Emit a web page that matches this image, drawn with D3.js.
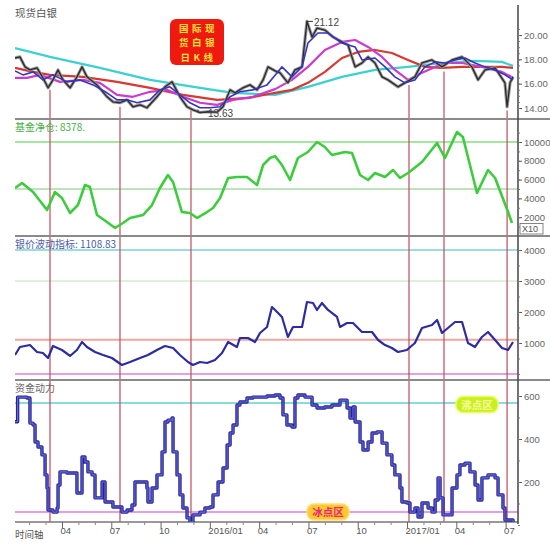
<!DOCTYPE html>
<html><head><meta charset="utf-8">
<script src="https://cdn.jsdelivr.net/npm/d3@7"></script>
<style>body{margin:0;background:#fff}svg{display:block;font-family:"Noto Sans CJK SC","Noto Sans",sans-serif}</style>
</head><body><svg id="c" width="550" height="544"></svg>
<script>
// ---------- DATA (months since 2015-01 , value) ----------
const quarterTicks = [3,6,9,12,15,18,21,24,27,30];
const quarterLabels = ["04","07","10","2016/01","04","07","10","2017/01","04","07"];
const priceTicks = [14,16,18,20];
const fundTicks = [2000,4000,6000,8000,10000];
const volTicks = [1000,2000,3000,4000];
const momTicks = [200,400,600];

const priceClose = [[0.14,18.11],[0.44,18.2],[0.75,17.38],[1.05,17.13],[1.48,17.3],[1.84,16.48],[2.15,15.66],[2.45,16.31],[2.76,17.13],[3.06,16.31],[3.49,15.66],[3.91,16.56],[4.22,17.38],[4.52,16.56],[5.13,15.9],[5.74,14.92],[6.1,14.51],[6.53,14.43],[6.96,14.67],[7.32,14.1],[7.75,14.26],[8.17,14.02],[8.78,14.92],[9.27,15.74],[9.7,16.15],[10.18,14.92],[10.61,14.1],[10.97,13.85],[11.4,13.63],[11.83,13.69],[12.44,13.66],[12.8,14.1],[13.23,15.49],[13.53,15.25],[14.02,15.66],[14.44,15.9],[14.87,15.49],[15.24,16.31],[15.54,17.38],[15.97,17.05],[16.27,16.89],[16.75,16.07],[17.18,17.13],[17.61,17.38],[17.91,21.12],[18.22,19.84],[18.52,20.57],[19.0,20.41],[19.49,19.84],[20.04,19.43],[20.41,19.18],[20.84,17.38],[21.26,17.7],[21.63,18.2],[22.05,17.7],[22.48,16.56],[22.84,16.31],[23.45,15.74],[23.87,16.07],[24.48,16.56],[24.91,17.7],[25.52,17.95],[26.13,17.38],[26.74,17.95],[27.35,18.2],[27.95,17.38],[28.32,16.31],[28.75,17.13],[29.36,17.3],[29.96,16.07],[30.09,14.1],[30.27,16.07],[30.45,16.56]];
const priceMA5 = [[0.14,17.05],[0.63,16.72],[1.24,16.97],[1.84,16.31],[2.45,16.72],[3.3,16.15],[4.1,16.31],[4.89,15.9],[5.74,15.25],[6.35,14.67],[6.96,14.67],[7.57,14.43],[8.36,14.67],[8.96,15.49],[9.57,15.74],[10.18,15.08],[10.79,14.43],[11.4,14.02],[12.01,14.02],[12.62,14.1],[13.23,14.92],[13.83,15.33],[14.62,15.49],[15.48,15.9],[15.97,16.7],[16.39,17.38],[17.0,16.56],[17.61,17.38],[17.97,19.34],[18.58,20.16],[19.19,20.16],[20.04,19.34],[20.84,19.02],[21.26,17.95],[22.05,18.11],[22.66,17.38],[23.26,16.56],[23.87,16.07],[24.48,16.31],[25.09,17.38],[25.71,17.79],[26.31,17.7],[26.92,17.95],[27.53,18.11],[28.14,17.7],[28.75,17.38],[29.36,17.13],[29.96,16.72],[30.45,16.31]];
const priceMA20 = [[0.14,16.48],[0.87,16.48],[1.66,16.72],[2.88,16.15],[4.28,16.31],[5.31,16.07],[6.35,15.08],[7.32,14.92],[8.36,15.33],[9.39,15.49],[10.36,14.92],[11.4,14.43],[12.44,14.26],[13.41,14.67],[14.62,14.92],[15.97,15.55],[17.0,16.31],[17.97,17.38],[19.0,18.77],[20.04,19.43],[20.84,19.59],[21.63,19.02],[22.48,18.2],[23.26,17.13],[24.06,16.31],[24.91,16.89],[25.71,17.38],[26.49,17.7],[27.35,17.7],[28.56,17.38],[29.78,16.97],[30.45,16.48]];
const priceMA60 = [[0.14,17.3],[1.24,16.97],[2.27,16.72],[4.28,16.56],[6.35,16.15],[8.36,15.66],[10.36,15.08],[12.44,14.67],[14.44,14.84],[15.97,15.25],[17.0,15.49],[17.97,16.07],[19.0,16.97],[20.04,18.11],[21.02,18.61],[22.05,18.77],[23.08,18.52],[24.06,17.95],[25.09,17.38],[26.13,17.3],[27.35,17.38],[28.56,17.38],[29.78,17.38],[30.45,17.3]];
const priceMA120 = [[0.14,18.93],[2.27,18.2],[5.31,17.3],[8.36,16.31],[11.4,15.66],[13.41,15.25],[15.97,15.08],[17.97,15.74],[20.04,16.56],[22.05,17.13],[24.06,17.38],[26.13,17.7],[28.14,17.87],[29.78,17.79],[30.45,17.46]];

const fundNet = [[0.14,5106],[0.57,5638],[1.24,4680],[2.09,2765],[2.57,4680],[3.0,4042],[3.49,2446],[3.97,3297],[4.4,5425],[4.7,5212],[5.13,2233],[5.74,1488],[6.23,850],[6.71,1382],[7.14,1914],[7.93,2233],[8.48,3297],[8.96,5106],[9.45,6489],[9.76,5744],[10.3,2552],[10.79,2446],[11.22,1914],[11.83,2552],[12.19,2978],[12.62,4042],[13.11,6170],[13.65,6276],[14.26,6276],[14.87,5425],[15.24,7553],[15.66,8298],[15.97,8500],[16.39,7553],[16.88,5957],[17.36,8298],[17.97,8936],[18.52,10000],[19.0,9468],[19.43,8617],[20.22,8936],[20.65,8830],[21.14,6489],[21.63,5957],[22.05,6702],[22.66,6276],[23.15,7021],[23.57,6170],[24.06,6702],[24.91,7872],[25.83,9894],[26.31,8298],[27.04,11064],[27.4,10532],[28.26,4574],[28.93,7021],[29.36,6170],[30.15,2552],[30.39,1382]];
const fundLevels = [10000,5000];

const volIndex = [[0.14,613],[0.44,871],[1.05,935],[1.48,710],[1.84,677],[2.15,516],[2.45,903],[3.0,774],[3.49,581],[3.91,774],[4.22,1032],[4.52,871],[5.01,710],[5.5,613],[6.04,516],[6.65,290],[7.14,387],[7.75,516],[8.23,613],[8.78,774],[9.27,903],[9.76,839],[10.18,613],[10.67,387],[10.97,290],[11.4,387],[11.83,355],[12.31,452],[12.74,677],[13.11,1032],[13.65,871],[13.83,1161],[14.32,1161],[14.75,1032],[15.05,1323],[15.48,1516],[15.78,2161],[15.97,2065],[16.39,1839],[16.75,1194],[17.06,1516],[17.61,1516],[17.91,2323],[18.28,2290],[18.52,2065],[18.82,2290],[19.19,2065],[19.74,1839],[19.92,1516],[20.35,1645],[20.71,1645],[21.26,1355],[21.87,1355],[22.24,1097],[22.66,935],[23.08,839],[23.45,710],[23.99,774],[24.48,1000],[24.91,1484],[25.52,1581],[25.83,1742],[26.13,1323],[26.49,1484],[26.92,1677],[27.35,1677],[27.71,1000],[28.14,871],[28.56,1194],[28.93,1355],[29.36,1097],[29.78,839],[30.15,774],[30.45,1032]];
const volLevels = [[4000,"#9adede"],[3000,"#b6e6b6"],[1108.83,"#eaa6a0"],[0,"#e6a0e6"]];

const momentum = [[0.14,480],[0.3,595],[0.87,591],[1.05,474],[1.24,465],[1.36,386],[1.54,363],[1.78,326],[1.97,233],[2.09,172],[2.15,70],[2.45,60],[2.7,79],[2.76,186],[2.88,247],[3.3,242],[3.91,149],[4.22,316],[4.4,293],[4.58,247],[4.83,233],[5.01,126],[5.44,200],[5.62,107],[6.1,84],[6.65,60],[6.96,70],[7.26,93],[7.44,200],[7.87,200],[8.17,172],[8.23,107],[8.48,172],[8.78,233],[9.09,340],[9.27,479],[9.45,488],[9.7,498],[9.76,340],[10.0,233],[10.18,140],[10.36,79],[10.61,33],[10.79,14],[10.97,47],[11.4,60],[11.7,79],[12.01,84],[12.19,140],[12.5,200],[12.8,265],[13.05,372],[13.23,428],[13.41,465],[13.65,558],[13.83,572],[14.26,591],[14.62,595],[15.48,600],[15.97,605],[16.27,591],[16.45,512],[16.69,465],[17.0,456],[17.18,591],[17.36,605],[17.79,595],[18.22,558],[18.52,544],[19.0,549],[19.43,558],[19.92,581],[20.35,544],[20.53,498],[20.71,549],[20.84,479],[21.14,386],[21.32,349],[21.63,386],[21.87,428],[22.18,433],[22.48,381],[22.78,326],[23.08,279],[23.26,233],[23.57,172],[23.69,107],[23.99,102],[24.18,60],[24.48,79],[24.67,37],[24.91,102],[25.28,79],[25.52,60],[25.71,116],[25.89,219],[26.01,126],[26.19,47],[26.49,47],[26.74,172],[27.04,233],[27.22,279],[27.53,288],[27.83,247],[28.14,186],[28.32,116],[28.56,219],[28.93,233],[29.36,219],[29.54,140],[29.84,79],[29.96,23],[30.45,14]];
const momLevels = [[567,"#8adcdc"],[60,"#e2a0e2"]];
const zoneLabels = [{m:28.26,v:560,text:"沸点区",fill:"#c8f020",stroke:"#e8ff60",color:"#f8ff9a"},{m:19.19,v:60,text:"冰点区",fill:"#ffc830",stroke:"#ffe070",color:"#ee2277"}];

const signalMonths = [2.27,6.53,10.85,24.12,26.25,30.09];
const signalPrices = [15.49,14.1,13.85,15.9,17.0,13.8];

// ---------- SCALES ----------
const svg = d3.select("#c");
const X0 = 15, X1 = 518, BOTTOM = 522;
const x = d3.scaleLinear().domain([0,30.45]).range([12.7,513]);
const yP = d3.scaleLinear().domain([14,20]).range([108,35]);
const yF = d3.scaleLinear().domain([0,10000]).range([236,142]);
const yV = d3.scaleLinear().domain([0,4000]).range([374,250]);
const yM = d3.scaleLinear().domain([0,600]).range([525,396]);
const panels = [[0,119],[119,236],[236,380],[380,BOTTOM]];

const defs = svg.append("defs");
panels.forEach((p,i)=>defs.append("clipPath").attr("id","cp"+i)
  .append("rect").attr("x",X0).attr("y",p[0]).attr("width",X1-X0).attr("height",p[1]-p[0]));

function hline(y,color,w){
  svg.append("line").attr("x1",X0).attr("x2",X1).attr("y1",y).attr("y2",y)
    .attr("stroke",color).attr("stroke-width",w);
}
// reference lines
hline(yF(fundLevels[0]),"#a6e6a0",2.2);
hline(yF(fundLevels[1]),"#7cc87c",1);
volLevels.forEach(([v,c],i)=>hline(yV(v),c,i==1?1:2));
momLevels.forEach(([v,c])=>hline(yM(v),c,2));

// signal lines
signalMonths.forEach((m,i)=>{
  svg.append("line").attr("x1",x(m)).attr("x2",x(m)).attr("y1",yP(signalPrices[i])).attr("y2",BOTTOM)
   .attr("stroke","#c24a58").attr("stroke-width",1.2);
});

// separators & axes
[119,236,380].forEach(y=>svg.append("line").attr("x1",X0).attr("x2",550).attr("y1",y).attr("y2",y)
   .attr("stroke","#8a8a8a").attr("stroke-width",2));
svg.append("line").attr("x1",X0).attr("x2",X1).attr("y1",BOTTOM).attr("y2",BOTTOM).attr("stroke","#777").attr("stroke-width",1.5);
svg.append("line").attr("x1",X1).attr("x2",X1).attr("y1",5).attr("y2",BOTTOM+2).attr("stroke","#444").attr("stroke-width",1.5);

const line = (xs,ys,curve)=>d3.line().x(d=>xs(d[0])).y(d=>ys(d[1])).curve(curve||d3.curveLinear);

// Panel 1
const g1 = svg.append("g").attr("clip-path","url(#cp0)");
const pdraw=(g,data,ys,color,w,curve)=>g.append("path").datum(data).attr("d",line(x,ys,curve))
   .attr("fill","none").attr("stroke",color).attr("stroke-width",w).attr("stroke-linejoin","round");
pdraw(g1,priceMA120,yP,"#3cd0d0",2.2);
pdraw(g1,priceMA60,yP,"#d23a32",2.2);
pdraw(g1,priceMA20,yP,"#cc3ccc",2.2);
pdraw(g1,priceClose,yP,"#9a9a9a",3.2);
pdraw(g1,priceClose,yP,"#2a2a2a",1.3);
pdraw(g1,priceMA5,yP,"#3535c0",1.6);

// Panel 2
const g2 = svg.append("g").attr("clip-path","url(#cp1)");
pdraw(g2,fundNet,yF,"#3ccc3c",2.6);
// Panel 3
const g3 = svg.append("g").attr("clip-path","url(#cp2)");
pdraw(g3,volIndex,yV,"#2c2ca0",2.2);
// Panel 4
const g4 = svg.append("g").attr("clip-path","url(#cp3)");
pdraw(g4,momentum,yM,"#24248e",3.4,d3.curveStepAfter);
pdraw(g4,momentum,yM,"#6a6ae8",1.1,d3.curveStepAfter);

// zone labels
zoneLabels.forEach(z=>{
  const cx=x(z.m), cy=yM(z.v);
  svg.append("rect").attr("x",cx-21).attr("y",cy-8).attr("width",42).attr("height",16).attr("rx",7)
    .attr("fill",z.fill).attr("stroke",z.stroke).attr("stroke-width",1.5);
  svg.append("text").attr("x",cx).attr("y",cy+4).attr("text-anchor","middle").attr("font-size",10.5)
    .attr("font-weight","bold").attr("fill",z.color).text(z.text);
});

// right axes
function raxis(ys,vals,fmt,minor){
  const g=svg.append("g").attr("transform",`translate(${X1},0)`)
    .call(d3.axisRight(ys).tickValues(vals).tickFormat(fmt).tickSize(4).tickPadding(2));
  g.select(".domain").remove();
  g.selectAll("line").attr("stroke","#555");
  g.selectAll("text").attr("fill","#666").attr("font-size",9.5).attr("font-family","'Liberation Sans',Arial,sans-serif");
  if(minor){
    const m=svg.append("g").attr("transform",`translate(${X1},0)`)
      .call(d3.axisRight(ys).tickValues(minor).tickFormat("").tickSize(2));
    m.select(".domain").remove(); m.selectAll("line").attr("stroke","#777");
  }
}
raxis(yP,priceTicks,d3.format(".2f"),d3.range(14,21,0.5));
raxis(yF,fundTicks,d3.format("d"),d3.range(0,12000,1000));
raxis(yV,volTicks,d3.format("d"),d3.range(0,4500,500));
raxis(yM,momTicks,d3.format("d"),d3.range(0,700,100));
// X10 box
svg.append("rect").attr("x",520).attr("y",223.5).attr("width",23).attr("height",10.5).attr("fill","#fff").attr("stroke","#666").attr("stroke-width",0.8);
svg.append("text").attr("x",522).attr("y",232).attr("font-size",9).attr("fill","#555").attr("font-family","'Liberation Sans',Arial,sans-serif").text("X10");

// bottom axis
const ba=svg.append("g").attr("transform",`translate(0,${BOTTOM})`)
  .call(d3.axisBottom(x).tickValues(quarterTicks).tickFormat((d,i)=>quarterLabels[i]).tickSize(6));
ba.select(".domain").remove();
ba.selectAll("line").attr("stroke","#666");
ba.selectAll("text").attr("text-anchor","start").attr("dx",-2).attr("dy",3).attr("fill","#555").attr("font-size",9.5)
  .attr("font-family","'Liberation Sans',Arial,sans-serif");
const mb=svg.append("g").attr("transform",`translate(0,${BOTTOM})`)
  .call(d3.axisBottom(x).tickValues(d3.range(1,31).filter(d=>d%3)).tickFormat("").tickSize(3));
mb.select(".domain").remove(); mb.selectAll("line").attr("stroke","#888");
svg.append("text").attr("x",15).attr("y",538).attr("font-size",9.5).attr("fill","#555").text("时间轴");

// titles
svg.append("text").attr("x",15).attr("y",17).attr("font-size",10.5).attr("fill","#555").text("现货白银");
svg.append("text").attr("x",15).attr("y",131).attr("font-size",10).attr("fill","#44b044").text("基金净仓: 8378.");
svg.append("text").attr("x",15).attr("y",248).attr("font-size",10).attr("fill","#4a5aa8").text("银价波动指标: 1108.83");
svg.append("text").attr("x",15).attr("y",392).attr("font-size",10).attr("fill","#666").text("资金动力");

// badge
svg.append("rect").attr("x",170).attr("y",19).attr("width",54).attr("height",46).attr("rx",6).attr("fill","#ee1a10");
["国际现","货白银","日K线"].forEach((t,i)=>svg.append("text").attr("x",198.5).attr("y",31.5+i*14.5)
  .attr("text-anchor","middle").attr("font-size",9.5).attr("font-weight","bold").attr("fill","#ffe23a")
  .attr("letter-spacing",3.5).text(t));

// high/low annotations
const hi = priceClose.reduce((a,b)=>b[1]>a[1]?b:a);
const lo = priceClose.reduce((a,b)=>b[1]<a[1]?b:a);
svg.append("path").attr("d",`M${x(hi[0])},${yP(hi[1])+4}V${yP(hi[1])}h6`).attr("stroke","#333").attr("fill","none");
svg.append("text").attr("x",x(hi[0])+7).attr("y",yP(hi[1])+5).attr("font-size",10).attr("fill","#444")
  .attr("font-family","'Liberation Sans',Arial,sans-serif").text(d3.format(".2f")(hi[1]));
svg.append("path").attr("d",`M${x(lo[0])-2},${yP(lo[1])-3}V${yP(lo[1])}h8`).attr("stroke","#333").attr("fill","none");
svg.append("text").attr("x",x(lo[0])+8).attr("y",yP(lo[1])+4).attr("font-size",10).attr("fill","#444")
  .attr("font-family","'Liberation Sans',Arial,sans-serif").text(d3.format(".2f")(lo[1]));
</script></body></html>
